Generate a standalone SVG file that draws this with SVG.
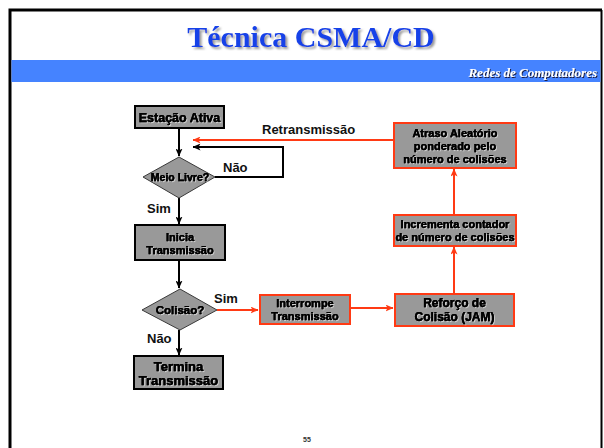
<svg xmlns="http://www.w3.org/2000/svg" width="604" height="448" viewBox="0 0 604 448">
  <defs>
    <!-- soft light halo under node labels -->
    <filter id="emboss" x="-10%" y="-30%" width="120%" height="160%" color-interpolation-filters="sRGB">
      <feOffset in="SourceAlpha" dx="0.8" dy="0.8" result="off"/>
      <feFlood flood-color="#ffffff" flood-opacity="0.55"/>
      <feComposite in2="off" operator="in" result="halo"/>
      <feMerge><feMergeNode in="halo"/><feMergeNode in="SourceGraphic"/><feMergeNode in="SourceGraphic"/></feMerge>
    </filter>
    <filter id="titleShadow" x="-10%" y="-30%" width="120%" height="160%">
      <feOffset in="SourceAlpha" dx="2" dy="2" result="off"/>
      <feGaussianBlur in="off" stdDeviation="1" result="blur"/>
      <feFlood flood-color="#9a9a9a"/>
      <feComposite in2="blur" operator="in" result="sh"/>
      <feMerge><feMergeNode in="sh"/><feMergeNode in="SourceGraphic"/></feMerge>
    </filter>
    <filter id="darkShadow" x="-10%" y="-30%" width="120%" height="160%">
      <feOffset in="SourceAlpha" dx="1" dy="1" result="off"/>
      <feFlood flood-color="#1a1a40"/>
      <feComposite in2="off" operator="in" result="sh"/>
      <feMerge><feMergeNode in="sh"/><feMergeNode in="SourceGraphic"/></feMerge>
    </filter>
    <marker id="arrBlack" markerWidth="8" markerHeight="7" refX="7.5" refY="3.5" orient="auto" markerUnits="userSpaceOnUse">
      <path d="M0,0 L8,3.5 L0,7 L2,3.5 z" fill="#000"/>
    </marker>
    <marker id="arrRed" markerWidth="8" markerHeight="7" refX="7.5" refY="3.5" orient="auto" markerUnits="userSpaceOnUse">
      <path d="M0,0 L8,3.5 L0,7 L2,3.5 z" fill="#ff3a14"/>
    </marker>
  </defs>
  <style>
    .box { fill: #999999; stroke: #000; stroke-width: 2; }
    .rbox { fill: #999999; stroke: #ff3a14; stroke-width: 2; }
    .dia { fill: #999999; stroke: #3a3a3a; stroke-width: 1; }
    .lbl { font-family: "Liberation Sans", Arial, sans-serif; font-weight: bold; fill: #000; text-anchor: middle; stroke: #000; stroke-width: 0.25; }
    .nodes { filter: url(#emboss); }
    .edge { font-family: "Liberation Sans", Arial, sans-serif; font-weight: bold; font-size: 13px; fill: #111; }
    .blk { fill: none; stroke: #000; stroke-width: 2; }
    .red { fill: none; stroke: #ff3a14; stroke-width: 2; }
  </style>

  <rect width="604" height="448" fill="#ffffff"/>

  <!-- slide frame and header band -->
  <path d="M10,448 V10 H602" fill="none" stroke="#000" stroke-width="3"/>
  <line x1="601.5" y1="10" x2="601.5" y2="448" stroke="#000" stroke-width="2"/>
  <rect x="11.5" y="60" width="589" height="22" fill="#4583ff"/>

  <text x="311" y="47" font-family="'Liberation Serif', 'Times New Roman', serif" font-weight="bold" font-size="30" fill="#1642e8" text-anchor="middle" filter="url(#titleShadow)">Técnica CSMA/CD</text>
  <text x="597" y="77" font-family="'Liberation Serif', 'Times New Roman', serif" font-weight="bold" font-style="italic" font-size="13" fill="#ffffff" text-anchor="end" filter="url(#darkShadow)">Redes de Computadores</text>

  <!-- connectors -->
  <g id="connectors">
    <line class="blk" x1="179" y1="128" x2="179" y2="156" marker-end="url(#arrBlack)"/>
    <path class="blk" d="M215,177 H283 V147 H193" marker-end="url(#arrBlack)"/>
    <path class="red" d="M394,140 H193" marker-end="url(#arrRed)"/>
    <line class="blk" x1="179" y1="198" x2="179" y2="224" marker-end="url(#arrBlack)"/>
    <line class="blk" x1="179" y1="260" x2="179" y2="288" marker-end="url(#arrBlack)"/>
    <line class="blk" x1="179" y1="330" x2="179" y2="355" marker-end="url(#arrBlack)"/>
    <path class="red" d="M217,310 H258" marker-end="url(#arrRed)"/>
    <path class="red" d="M350,308 H393" marker-end="url(#arrRed)"/>
    <path class="red" d="M454,294 V247" marker-end="url(#arrRed)"/>
    <path class="red" d="M454,215 V169" marker-end="url(#arrRed)"/>
    <text class="edge" x="262" y="134">Retransmissão</text>
    <text class="edge" x="223" y="172">Não</text>
    <text class="edge" x="147" y="213">Sim</text>
    <text class="edge" x="214" y="303">Sim</text>
    <text class="edge" x="147" y="343">Não</text>
  </g>

  <g id="estacao-ativa">
    <rect class="box" x="135" y="106" width="89" height="22"/>
    <text class="lbl nodes" x="179.5" y="122" font-size="12.5">Estação Ativa</text>
  </g>

  <g id="meio-livre">
    <polygon class="dia" points="143,177 179,157 215,177 179,198"/>
    <text class="lbl nodes" x="180" y="181" font-size="10.5">Meio Livre?</text>
  </g>

  <g id="inicia-transmissao">
    <rect class="box" x="135" y="225" width="90" height="35"/>
    <text class="lbl nodes" x="180" y="241" font-size="11">Inicia</text>
    <text class="lbl nodes" x="180" y="254" font-size="11">Transmissão</text>
  </g>

  <g id="colisao">
    <polygon class="dia" points="142,310 180,289 217,310 180,330"/>
    <text class="lbl nodes" x="180" y="314" font-size="11.5">Colisão?</text>
  </g>

  <g id="termina-transmissao">
    <rect class="box" x="134" y="356" width="89" height="33"/>
    <text class="lbl nodes" x="178.5" y="371" font-size="13">Termina</text>
    <text class="lbl nodes" x="178.5" y="385" font-size="13">Transmissão</text>
  </g>

  <g id="interrompe-transmissao">
    <rect class="rbox" x="260" y="295" width="90" height="29"/>
    <text class="lbl nodes" x="305" y="307" font-size="11">Interrompe</text>
    <text class="lbl nodes" x="305" y="320" font-size="11">Transmissão</text>
  </g>

  <g id="reforco-colisao">
    <rect class="rbox" x="395" y="294" width="119" height="32"/>
    <text class="lbl nodes" x="454.5" y="307" font-size="12">Reforço de</text>
    <text class="lbl nodes" x="454.5" y="321" font-size="12">Colisão (JAM)</text>
  </g>

  <g id="incrementa-contador">
    <rect class="rbox" x="394" y="215" width="122" height="31"/>
    <text class="lbl nodes" x="455" y="228" font-size="11">Incrementa contador</text>
    <text class="lbl nodes" x="455" y="241" font-size="11">de número de colisões</text>
  </g>

  <g id="atraso-aleatorio">
    <rect class="rbox" x="394" y="123" width="122" height="45"/>
    <text class="lbl nodes" x="455" y="137" font-size="11">Atraso Aleatório</text>
    <text class="lbl nodes" x="455" y="150" font-size="11">ponderado pelo</text>
    <text class="lbl nodes" x="455" y="163" font-size="11">número de colisões</text>
  </g>

  <text x="307" y="442" font-family="'Liberation Sans', Arial, sans-serif" font-weight="bold" font-size="7" fill="#333" text-anchor="middle">55</text>
</svg>
